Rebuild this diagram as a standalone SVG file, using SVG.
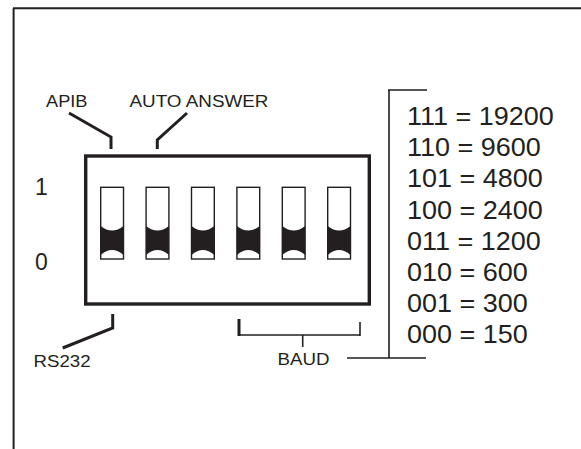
<svg xmlns="http://www.w3.org/2000/svg" width="581" height="449" viewBox="0 0 581 449">
<style>
.t{font-family:"Liberation Sans",Arial,sans-serif;fill:#231f20}
.s{font-size:17px}
.b{font-size:25px}
.ln{fill:none;stroke:#231f20;stroke-linecap:butt;stroke-linejoin:miter}
.thick{stroke-width:3}
.thin{stroke-width:1.6}
.sw{fill:#fff;stroke:#231f20;stroke-width:1.4}
.blk{fill:#231f20}
</style>
<rect width="581" height="449" fill="#fff"/>
<g id="frame">
<path class="ln" d="M13,8.3 H581 M13.6,8.3 V449" stroke-width="2"/>
</g>
<g id="dip-switch">
<rect x="85.7" y="156" width="283.6" height="148" fill="#fff" stroke="#231f20" stroke-width="3.4"/>
<g id="sw1"><rect class="sw" x="100.7" y="187.3" width="22.8" height="71.7"/><path class="blk" d="M100.7,226 Q112.1,235 123.5,226 V255 Q112.1,245 100.7,255 Z"/></g>
<g id="sw2"><rect class="sw" x="146.1" y="187.3" width="22.8" height="71.7"/><path class="blk" d="M146.1,226 Q157.5,235 168.9,226 V255 Q157.5,245 146.1,255 Z"/></g>
<g id="sw3"><rect class="sw" x="191.5" y="187.3" width="22.8" height="71.7"/><path class="blk" d="M191.5,226 Q202.9,235 214.3,226 V255 Q202.9,245 191.5,255 Z"/></g>
<g id="sw4"><rect class="sw" x="236.9" y="187.3" width="22.8" height="71.7"/><path class="blk" d="M236.9,226 Q248.3,235 259.7,226 V255 Q248.3,245 236.9,255 Z"/></g>
<g id="sw5"><rect class="sw" x="282.3" y="187.3" width="22.8" height="71.7"/><path class="blk" d="M282.3,226 Q293.7,235 305.1,226 V255 Q293.7,245 282.3,255 Z"/></g>
<g id="sw6"><rect class="sw" x="327.7" y="187.3" width="22.8" height="71.7"/><path class="blk" d="M327.7,226 Q339.1,235 350.5,226 V255 Q339.1,245 327.7,255 Z"/></g>
</g>
<g id="connectors">
<path class="ln thick" d="M69,113 L111,137 V149"/>
<path class="ln thick" d="M187,113 L157.3,140 V149"/>
<path class="ln thick" d="M112.7,314 V328 L62.7,348"/>
<path class="ln thin" d="M239,335 H360"/>
<path class="ln thick" d="M239,319 V336"/>
<path class="ln thin" d="M360,322 V336"/>
<path class="ln thin" d="M302.7,335 V347"/>
<path class="ln thin" d="M389,90 V358 M388,90 H427 M347,358 H426"/>
</g>
<g id="labels">
<text class="t s" x="46" y="106.5" textLength="41.5" lengthAdjust="spacingAndGlyphs">APIB</text>
<text class="t s" x="129.5" y="106.5" textLength="139" lengthAdjust="spacingAndGlyphs">AUTO ANSWER</text>
<text class="t s" x="33.5" y="367" textLength="57" lengthAdjust="spacingAndGlyphs">RS232</text>
<text class="t s" x="277.5" y="365" textLength="52" lengthAdjust="spacingAndGlyphs">BAUD</text>
<text class="t" x="35" y="195" font-size="23">1</text>
<text class="t" x="35" y="270" font-size="23">0</text>
</g>
<g id="baud-table" class="t b" transform="translate(407,0) scale(1.08,1) translate(-407,0)">
<text x="407" y="125">111 = 19200</text>
<text x="407" y="156">110 = 9600</text>
<text x="407" y="187">101 = 4800</text>
<text x="407" y="219">100 = 2400</text>
<text x="407" y="250">011 = 1200</text>
<text x="407" y="281">010 = 600</text>
<text x="407" y="312">001 = 300</text>
<text x="407" y="343">000 = 150</text>
</g>
</svg>
